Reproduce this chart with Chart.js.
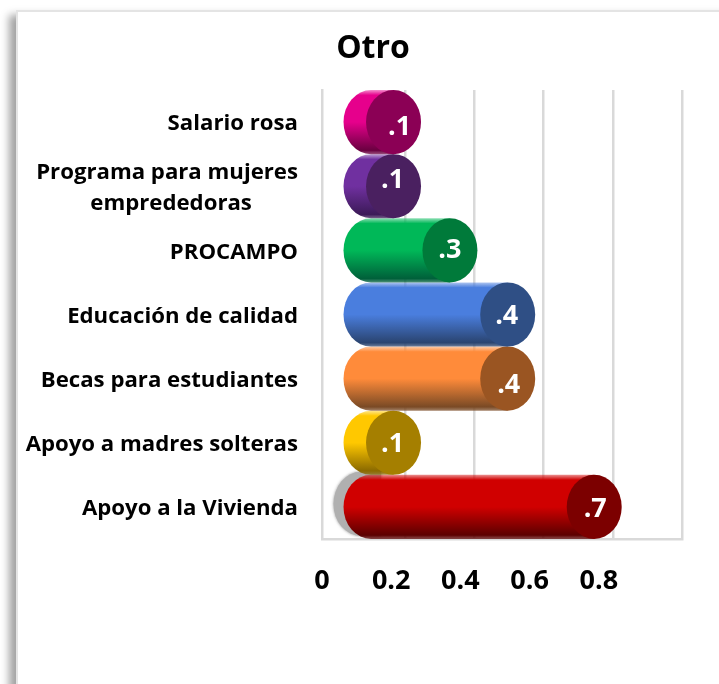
<!DOCTYPE html>
<html lang="es">
  <head>
    <meta charset="UTF-8" />
    <title>Otro</title>
    <style>
      html, body { margin: 0; height: 100%; background: #fff; overflow: hidden; }
      .card {
        position: absolute; left: 16px; top: 10px; width: 800px; height: 800px;
        border: 2px solid #e4e4e4; background: #fff;
        box-shadow: -7px 5px 8px rgba(0, 0, 0, 0.36);
      }
      canvas { position: absolute; left: 0; top: 0; }
    </style>
    <script src="https://cdn.jsdelivr.net/npm/chart.js"></script>
  </head>
  <body>
    <div class="card"></div>
    <canvas id="myChart" width="719" height="684"></canvas>
    <script>
      const NBSP = "\u00a0";
      const categories = [
        "Salario rosa",
        ["Programa para mujeres", "emprededoras" + NBSP.repeat(8)],
        "PROCAMPO",
        "Educación de calidad",
        "Becas para estudiantes",
        "Apoyo a madres solteras",
        "Apoyo a la Vivienda"
      ];
      const values = [0.12, 0.12, 0.283, 0.45, 0.45, 0.12, 0.7];
      const valueLabels = [".1", ".1", ".3", ".4", ".4", ".1", ".7"];
      const axisTicks = [0, 0.2, 0.4, 0.6, 0.8, 1];

      const bodyColors = ["#e6008c", "#7030a0", "#00b858", "#4a7ede", "#ff8b3a", "#ffc800", "#d00000"];
      const darkColors = ["#6a0040", "#3c1a58", "#00603a", "#2a4470", "#7a4a25", "#8a6900", "#5c0000"];
      const capColors = ["#8b0055", "#4a2060", "#007a3a", "#2f4f85", "#9a5522", "#a57f00", "#7c0000"];
      // the data labels are not centred on the caps in the original
      const labelShift = [[6, 5], [-1, -6], [0, 0], [-1, 2], [1, 7], [-1, 2], [1, 2]];

      const CAP_RX = 27.5;
      const DEPTH = 16; // back wall to cap centre
      const BODY_START = 35; // value zero to centre of the rounded left end

      const cylinders = {
        id: "cylinders",
        // the title sits right of the canvas centre in the original
        afterLayout(chart) {
          chart.titleBlock.left += 64;
        },
        afterDatasetsDraw(chart) {
          const { ctx } = chart;
          const bars = chart.getDatasetMeta(0).data;
          const startX = chart.scales.x.getPixelForValue(0) + BODY_START;
          for (let i = bars.length - 1; i >= 0; i--) {
            const bar = bars[i];
            const ry = bar.height / 2;
            const capX = bar.x + DEPTH;
            ctx.save();
            if (i === bars.length - 1) {
              // grey shadow behind the lowest bar
              ctx.save();
              ctx.shadowColor = "rgba(120,120,120,0.8)";
              ctx.shadowBlur = 3;
              ctx.fillStyle = "#b0b0b0";
              ctx.beginPath();
              ctx.ellipse(startX - 10, bar.y - 3, CAP_RX, ry, 0, Math.PI / 2, Math.PI * 1.5);
              ctx.lineTo(startX + 10, bar.y - ry - 3);
              ctx.lineTo(startX + 10, bar.y + ry - 3);
              ctx.closePath();
              ctx.fill();
              ctx.restore();
            }
            const grad = ctx.createLinearGradient(0, bar.y - ry, 0, bar.y + ry);
            grad.addColorStop(0, bodyColors[i] + "70");
            grad.addColorStop(0.08, bodyColors[i]);
            grad.addColorStop(0.5, bodyColors[i]);
            grad.addColorStop(0.94, darkColors[i]);
            grad.addColorStop(1, darkColors[i] + "b0");
            ctx.fillStyle = grad;
            ctx.beginPath();
            ctx.ellipse(startX, bar.y, CAP_RX, ry, 0, Math.PI / 2, Math.PI * 1.5);
            ctx.lineTo(capX, bar.y - ry);
            ctx.lineTo(capX, bar.y + ry);
            ctx.closePath();
            ctx.fill();

            ctx.fillStyle = capColors[i];
            ctx.beginPath();
            ctx.ellipse(capX, bar.y, CAP_RX, ry, 0, 0, Math.PI * 2);
            ctx.fill();

            ctx.fillStyle = "#ffffff";
            ctx.font = 'bold 27px "Open Sans"';
            ctx.textAlign = "center";
            ctx.textBaseline = "middle";
            ctx.fillText(valueLabels[i], capX + labelShift[i][0], bar.y + labelShift[i][1]);
            ctx.restore();
          }
        }
      };

      const gridColor = "#d9d9d9";
      new Chart(document.getElementById("myChart"), {
        type: "bar",
        data: {
          labels: categories,
          datasets: [{
            data: values,
            backgroundColor: "transparent",
            barPercentage: 1,
            categoryPercentage: 1
          }]
        },
        options: {
          indexAxis: "y",
          responsive: false,
          animation: false,
          layout: { padding: { right: 37 } },
          plugins: {
            legend: { display: false },
            tooltip: { enabled: false },
            title: {
              display: true,
              text: "Otro",
              color: "#000000",
              font: { family: "Open Sans", size: 32, weight: "bold", lineHeight: 1.2 },
              padding: { top: 30, bottom: 21.6 }
            }
          },
          scales: {
            x: {
              min: -0.0405,
              max: 1,
              afterBuildTicks(axis) {
                axis.ticks = axisTicks.map((value) => ({ value }));
              },
              afterFit(axis) {
                axis.height = 145;
              },
              grid: {
                drawTicks: false,
                lineWidth: 2.5,
                color: (c) => (c.tick && c.tick.value === 0 ? "transparent" : gridColor)
              },
              border: { color: gridColor, width: 2.5 },
              ticks: {
                autoSkip: false,
                maxRotation: 0,
                padding: 26,
                labelOffset: -14,
                color: "#000000",
                font: { family: "Open Sans", size: 27, weight: "bold", lineHeight: 1.2 },
                callback: (value) => (value === 1 ? "" : String(value))
              }
            },
            y: {
              afterFit(axis) {
                axis.width = 322;
              },
              grid: { display: false },
              border: { color: gridColor, width: 2.5 },
              ticks: {
                padding: 16,
                labelOffset: 2,
                autoSkip: false,
                color: "#000000",
                font: { family: "Open Sans", size: 22.2, weight: "bold", lineHeight: 1.4 }
              }
            }
          }
        },
        plugins: [cylinders]
      });
    </script>
  </body>
</html>
